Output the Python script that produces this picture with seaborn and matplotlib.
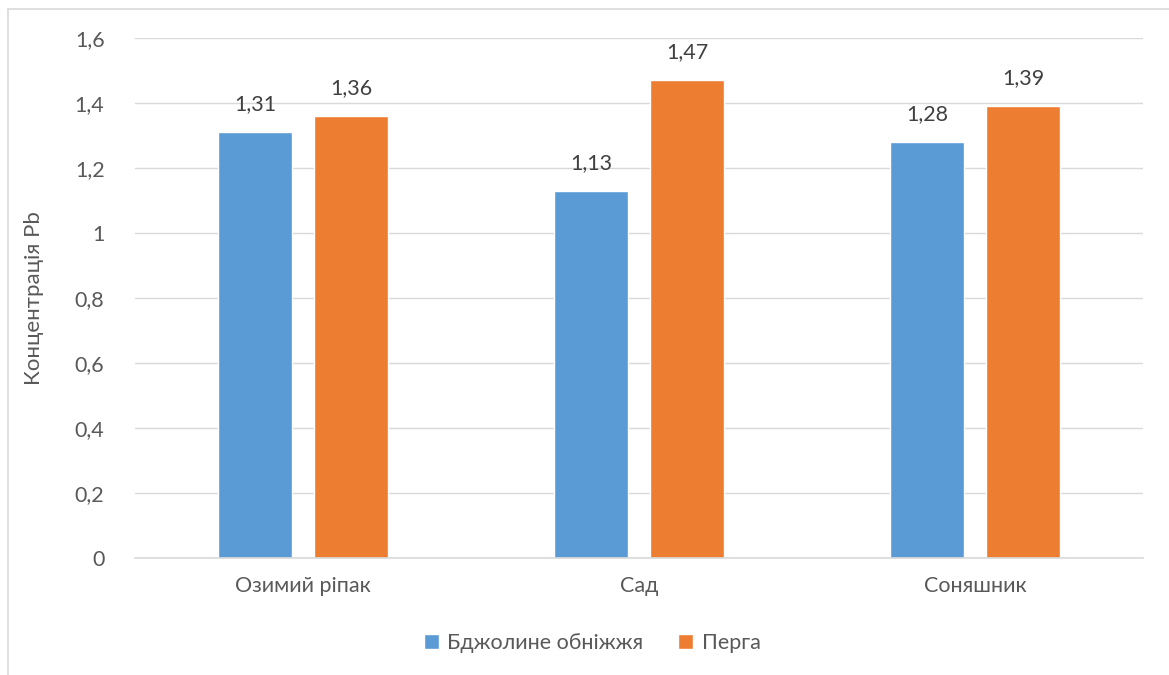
import matplotlib
matplotlib.use("Agg")
import matplotlib.pyplot as plt
import matplotlib.lines as mlines
from matplotlib.ticker import FuncFormatter, MultipleLocator
import seaborn as sns
import pandas as pd

categories = ["Озимий ріпак", "Сад", "Соняшник"]
series_names = ["Бджолине обніжжя", "Перга"]
pollen_values = [1.31, 1.13, 1.28]
perga_values = [1.36, 1.47, 1.39]
y_label = "Концентрація Pb"

rows = []
for c, v in zip(categories, pollen_values):
    rows.append({"cat": c, "series": series_names[0], "val": v})
for c, v in zip(categories, perga_values):
    rows.append({"cat": c, "series": series_names[1], "val": v})
df = pd.DataFrame(rows)

sns.set_theme(style="white")
plt.rcParams['font.family'] = ['Lato', 'DejaVu Sans']

fig = plt.figure(figsize=(11.69, 6.75), dpi=100)
ax = fig.add_axes([135/1169, 1-558/675, (1143-135)/1169, (558-38)/675])

palette = {series_names[0]: "#5B9BD5", series_names[1]: "#ED7D31"}
sns.barplot(data=df, x="cat", y="val", hue="series", order=categories,
            hue_order=series_names, palette=palette, width=0.571, gap=0.22,
            saturation=1, errorbar=None, ax=ax, legend=True)

ax.set_ylim(0, 1.6)
ax.set_xlim(-0.5, 2.5)
ax.yaxis.set_major_locator(MultipleLocator(0.2))
def fmt(v, pos):
    s = f"{v:.1f}"
    if s.endswith(".0"):
        s = s[:-2]
    return s.replace(".", ",")
ax.yaxis.set_major_formatter(FuncFormatter(fmt))
ax.grid(axis="y", color="#D9D9D9", linewidth=1)
ax.set_axisbelow(True)
for s in ["top", "right", "left"]:
    ax.spines[s].set_visible(False)
ax.spines["bottom"].set_color("#D9D9D9")
ax.spines["bottom"].set_linewidth(1.2)
ax.tick_params(axis="both", length=0, labelsize=15.5, colors="#595959")
ax.tick_params(axis="y", pad=22)
ax.tick_params(axis="x", pad=13)
ax.set_xlabel("")
ax.set_ylabel(y_label, fontsize=16, color="#595959", labelpad=22)

for cont in ax.containers:
    ax.bar_label(cont, labels=[f"{v:.2f}".replace(".", ",") for v in cont.datavalues],
                 padding=13, fontsize=15.5, color="#404040")

handles, labels = ax.get_legend_handles_labels()
ax.legend_.remove()
fig.legend(handles, labels, loc="center", bbox_to_anchor=(592/1169, 1-643/675),
           ncol=2, frameon=False, fontsize=15.5, handlelength=0.7, handleheight=0.7,
           columnspacing=1.6, handletextpad=0.4, labelcolor="#595959")

fig.add_artist(mlines.Line2D([8/1169, 1], [1-9/675, 1-9/675], color="#D9D9D9", lw=1.2,
                             transform=fig.transFigure))
fig.add_artist(mlines.Line2D([8/1169, 8/1169], [0, 1-9/675], color="#D9D9D9", lw=1.2,
                             transform=fig.transFigure))

fig.savefig("out.png", dpi=100, facecolor="white")
